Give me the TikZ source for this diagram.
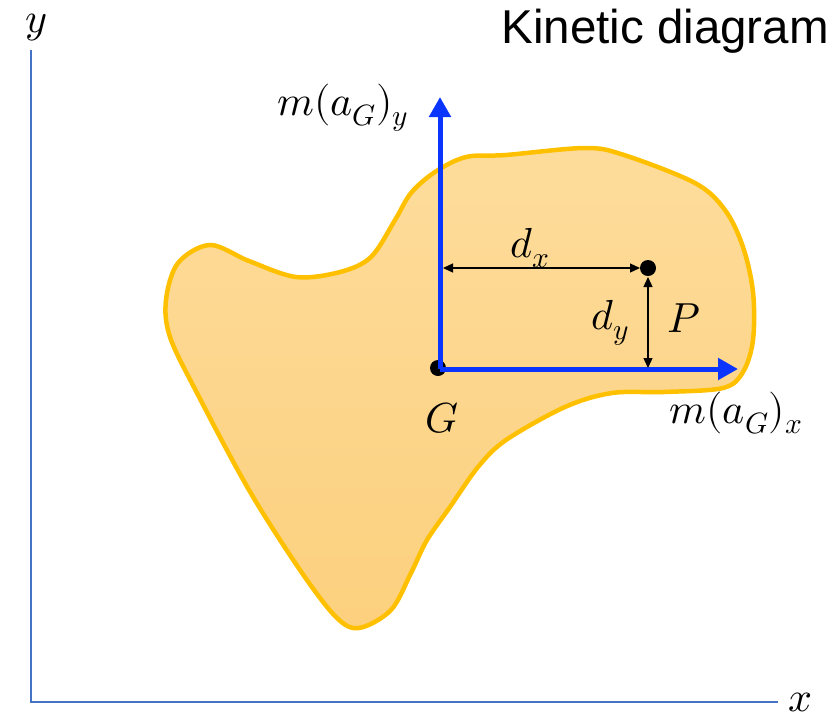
\documentclass[tikz,border=0pt]{standalone}
\usepackage{fontspec}
\usepackage{unicode-math}
\setmathfont{Latin Modern Math}
\setsansfont{Liberation Sans}
\usetikzlibrary{arrows.meta}
\definecolor{axisblue}{HTML}{4472C4}
\definecolor{vecblue}{HTML}{0A35FF}
\definecolor{bodyedge}{HTML}{FFC000}
\definecolor{bodytop}{HTML}{FDDC9B}
\definecolor{bodybot}{HTML}{FCD07E}
\begin{document}
\begin{tikzpicture}[x=1pt,y=-1pt,
  axisline/.style={draw=axisblue,line width=2pt},
  vec/.style={draw=vecblue,line width=5pt,-{Triangle[length=20pt,width=21pt]}},
  dim/.style={draw=black,line width=1.3pt,{Triangle[length=10pt,width=9pt]}-{Triangle[length=10pt,width=9pt]}},
  dotnode/.style={circle,fill=black,inner sep=0pt,minimum size=16pt},
  lbl/.style={inner sep=0pt,font=\fontsize{42}{46}\selectfont}]
\useasboundingbox (0,0) rectangle (836,721);
% axes
\coordinate (O) at (31,702);
\coordinate (Ytop) at (31,50);
\coordinate (Xend) at (778,702);
\draw[axisline] (Ytop) -- (O) -- (Xend);
\node[lbl] (ylab) at (36,28) {$y$};
\node[lbl] (xlab) at (801,702) {$x$};
\node[inner sep=0pt,anchor=east,font=\sffamily\fontsize{47.5}{50}\selectfont] (title) at (829,31) {Kinetic diagram};
% body
\shade[top color=bodytop,bottom color=bodybot,draw=bodyedge,line width=4.5pt]
 plot[smooth cycle,tension=0.55] coordinates {
 (166,300) (178,263) (210,245) (249,261) (296,277) (340,272) (371,257)
 (395,220) (411,193) (435,172) (466,157) (506,155) (585,148) (624,155)
 (695,183) (725,210) (743,247) (753,292) (753,340) (743,372) (723,388)
 (664,392) (612,393) (565,407) (506,440) (478,467) (450,507) (427,540)
 (411,573) (391,610) (359,628) (336,617) (300,570) (249,490) (197,393) (170,337)};
% points
\node[dotnode] (G) at (438,368) {};
\node[dotnode] (P) at (648,268) {};
\coordinate (Gv) at (440,369);
\coordinate (Ytip) at (440,97);
\coordinate (Xtip) at (738,369);
\draw[vec] (Gv) -- (Ytip);
\draw[vec] (Gv) -- (Xtip);
% dimensions
\coordinate (dxL) at (443,268);
\coordinate (dxR) at (640,268);
\coordinate (dyT) at (648,277);
\coordinate (dyB) at (648,368);
\draw[dim] (dxL) -- (dxR);
\draw[dim] (dyT) -- (dyB);
% labels
\node[lbl] (dxlab) at (530,248) {$d_x$};
\node[lbl] (dylab) at (610,323) {$d_y$};
\node[lbl] (Plab) at (684,318) {$P$};
\node[lbl] (Glab) at (442,418) {$G$};
\node[lbl] (maxlab) at (736,413) {$m(a_G)_x$};
\node[lbl] (maylab) at (343,108) {$m(a_G)_y$};
\end{tikzpicture}
\end{document}
